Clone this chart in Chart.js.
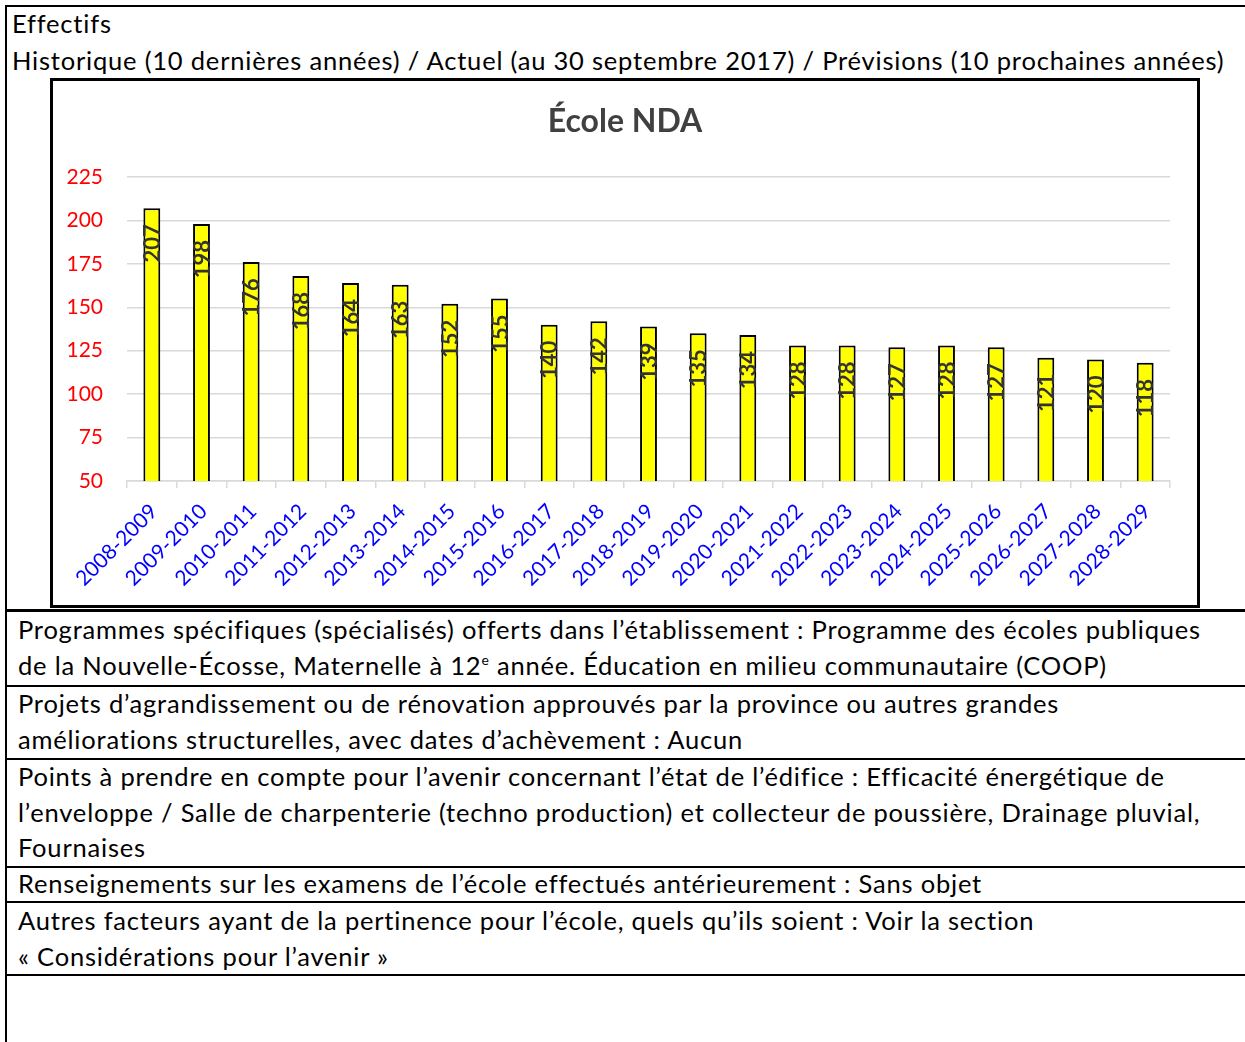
<!DOCTYPE html>
<html>
<head>
<meta charset="utf-8">
<script src="https://cdn.jsdelivr.net/npm/chart.js@4.4.0/dist/chart.umd.min.js"></script>
<style>
  body { margin: 0; width: 1245px; height: 1042px; background: #fff; overflow: hidden; position: relative; font-family: Lato, "Noto Sans", sans-serif; color: #000; }
  .txt { position: absolute; font-size: 25.5px; letter-spacing: 0.8px; line-height: 35.5px; white-space: nowrap; }
  .hline { position: absolute; left: 5px; width: 1240px; height: 2px; background: #000; }
  .vline { position: absolute; left: 5px; top: 5px; width: 2px; height: 1037px; background: #000; }
  #box { position: absolute; left: 50px; top: 78px; width: 1144px; height: 524px; border: 3px solid #000; }
  sup { font-size: 14px; line-height: 0; vertical-align: 10px; }
</style>
</head>
<body>
<div class="vline"></div>
<div class="hline" style="top:5px"></div>
<div class="txt" style="left:12px; top:6px">Effectifs</div>
<div class="txt" style="left:12px; top:43px">Historique (10 dernières années) / Actuel (au 30 septembre 2017) / Prévisions (10 prochaines années)</div>
<div id="box"><canvas id="c" width="1144" height="524"></canvas></div>

<div class="hline" style="top:609px; height:3px"></div>
<div class="txt" style="left:18px; top:612px">Programmes spécifiques (spécialisés) offerts dans l’établissement : Programme des écoles publiques<br>de la Nouvelle-Écosse, Maternelle à 12<sup>e</sup> année. Éducation en milieu communautaire (COOP)</div>
<div class="hline" style="top:685px"></div>
<div class="txt" style="left:18px; top:686px">Projets d’agrandissement ou de rénovation approuvés par la province ou autres grandes<br>améliorations structurelles, avec dates d’achèvement : Aucun</div>
<div class="hline" style="top:758px"></div>
<div class="txt" style="left:18px; top:759px">Points à prendre en compte pour l’avenir concernant l’état de l’édifice : Efficacité énergétique de<br>l’enveloppe / Salle de charpenterie (techno production) et collecteur de poussière, Drainage pluvial,<br>Fournaises</div>
<div class="hline" style="top:866px"></div>
<div class="txt" style="left:18px; top:866px">Renseignements sur les examens de l’école effectués antérieurement : Sans objet</div>
<div class="hline" style="top:901px"></div>
<div class="txt" style="left:18px; top:903px">Autres facteurs ayant de la pertinence pour l’école, quels qu’ils soient : Voir la section<br>« Considérations pour l’avenir »</div>
<div class="hline" style="top:974px"></div>

<script>
const years = ['2008-2009', '2009-2010', '2010-2011', '2011-2012', '2012-2013', '2013-2014', '2014-2015',
  '2015-2016', '2016-2017', '2017-2018', '2018-2019', '2019-2020', '2020-2021', '2021-2022', '2022-2023',
  '2023-2024', '2024-2025', '2025-2026', '2026-2027', '2027-2028', '2028-2029'];
const enrolment = [207, 198, 176, 168, 164, 163, 152, 155, 140, 142, 139, 135, 134, 128, 128, 127, 128, 127, 121, 120, 118];
const yTicks = [50, 75, 100, 125, 150, 175, 200, 225];
const chartTitle = 'École NDA';

// value labels written vertically inside the top of each bar
const barLabels = {
  id: 'barLabels',
  afterDatasetsDraw(chart) {
    const ctx = chart.ctx;
    const meta = chart.getDatasetMeta(0);
    ctx.save();
    ctx.font = 'bold 22px Lato';
    ctx.fillStyle = '#333333';
    ctx.textAlign = 'right';
    ctx.textBaseline = 'middle';
    meta.data.forEach((bar, i) => {
      ctx.save();
      ctx.translate(bar.x, bar.y + 16);
      ctx.rotate(-Math.PI / 2);
      ctx.fillText(String(enrolment[i]), 0, 1);
      ctx.restore();
    });
    ctx.restore();
  }
};

new Chart(document.getElementById('c').getContext('2d'), {
  type: 'bar',
  data: {
    labels: years,
    datasets: [{
      data: enrolment,
      backgroundColor: '#ffff00',
      borderColor: '#000000',
      borderWidth: 2,
      borderSkipped: false,
      barPercentage: 0.34,
      categoryPercentage: 1
    }]
  },
  options: {
    responsive: false,
    animation: false,
    layout: { padding: 0 },
    plugins: {
      legend: { display: false },
      tooltip: { enabled: false },
      title: {
        display: true,
        text: chartTitle,
        color: '#404040',
        font: { family: 'Lato', size: 32, weight: 'bold' },
        padding: { top: 21, bottom: 36.6 }
      }
    },
    scales: {
      x: {
        grid: { offset: true, drawOnChartArea: false, color: '#d9d9d9', lineWidth: 1.5, tickLength: 7 },
        border: { color: '#d9d9d9', width: 1.5 },
        ticks: { color: '#0000ff', font: { family: 'Lato', size: 21 }, minRotation: 45, maxRotation: 45, padding: 11, labelOffset: 2, autoSkip: false },
        afterFit(scale) { scale.height = 124; }
      },
      y: {
        min: 50,
        max: 225,
        afterBuildTicks(scale) { scale.ticks = yTicks.map(v => ({ value: v })); },
        grid: { color: '#d9d9d9', lineWidth: 1.5, drawTicks: false },
        border: { display: false },
        ticks: { color: '#ff0000', font: { family: 'Lato', size: 21 }, padding: 24 },
        afterFit(scale) { scale.width = 74; }
      },
      // empty right-hand axis, only keeps the plot clear of the right edge
      yRight: {
        type: 'linear',
        position: 'right',
        grid: { display: false },
        border: { display: false },
        ticks: { display: false },
        afterFit(scale) { scale.width = 27; }
      }
    }
  },
  plugins: [barLabels]
});
</script>
</body>
</html>
